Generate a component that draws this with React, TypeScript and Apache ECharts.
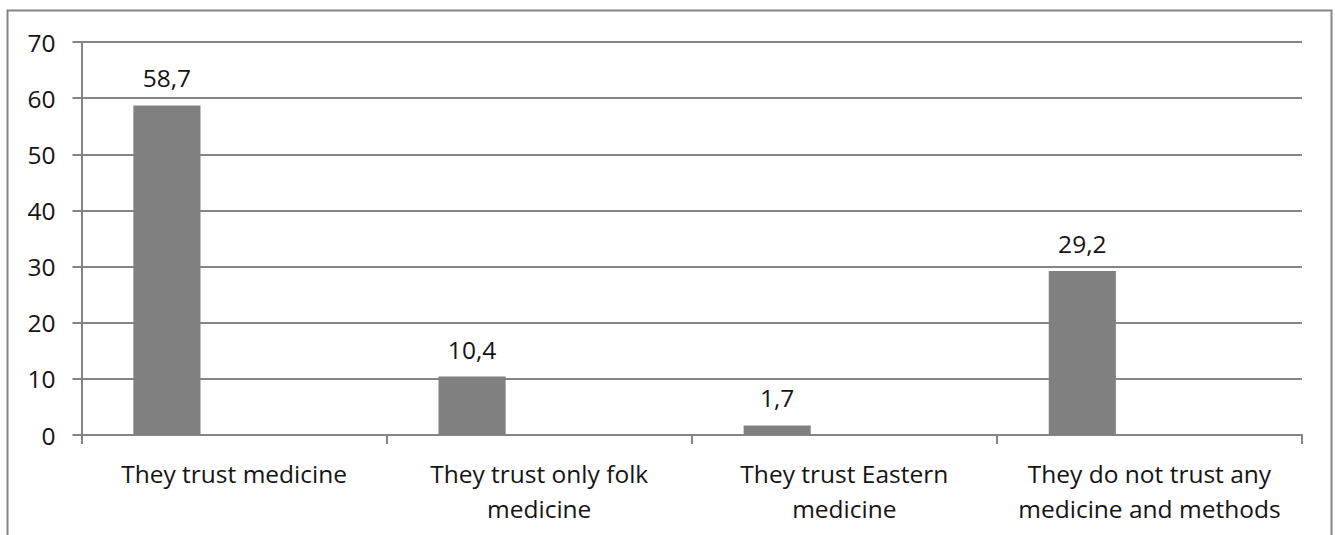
import React, { useEffect, useRef } from "react";
import * as echarts from "echarts";

// Survey answers and their shares, in percent
const categories: string[] = [
  "They trust medicine",
  "They trust only folk\nmedicine",
  "They trust Eastern\nmedicine",
  "They do not trust any\nmedicine and methods",
];
const shares: number[] = [58.7, 10.4, 1.7, 29.2];
// Two further series slots of the clustered layout carry no values
const emptySlot: (number | null)[] = [null, null, null, null];

const yMin = 0;
const yMax = 70;
const yStep = 10;

const FONT = "'Open Sans', 'Noto Sans', sans-serif";
const TEXT = "#141414";
const LINE = "#858585";
const BAR = "#808080";
const FS = 24.5;

export default function App() {
  const ref = useRef<HTMLDivElement>(null);

  useEffect(() => {
    if (!ref.current) return;
    const chart = echarts.init(ref.current, undefined, { renderer: "svg" });
    chart.setOption({
      animation: false,
      backgroundColor: "#ffffff",
      graphic: [
        {
          type: "rect",
          shape: { x: 7.5, y: 10.5, width: 1324, height: 600 },
          style: { fill: "none", stroke: LINE, lineWidth: 2 },
          silent: true,
        },
      ],
      grid: { left: 81.5, right: 33, top: 42, bottom: 100, containLabel: false },
      xAxis: {
        type: "category",
        data: categories,
        boundaryGap: true,
        axisLine: { show: true, lineStyle: { color: LINE, width: 2 } },
        axisTick: { show: true, length: 9, interval: 0, alignWithLabel: false, lineStyle: { color: LINE, width: 2 } },
        axisLabel: {
          interval: 0,
          margin: 21,
          color: TEXT,
          fontFamily: FONT,
          fontSize: FS,
          lineHeight: 35,
        },
        splitLine: { show: false },
      },
      yAxis: {
        type: "value",
        min: yMin,
        max: yMax,
        interval: yStep,
        axisLine: { show: true, lineStyle: { color: LINE, width: 2 } },
        axisTick: { show: true, length: 9, lineStyle: { color: LINE, width: 2 } },
        axisLabel: {
          margin: 26,
          color: TEXT,
          fontFamily: FONT,
          fontSize: FS,
        },
        splitLine: { show: true, lineStyle: { color: LINE, width: 2 } },
      },
      series: [
        {
          name: "share",
          type: "bar",
          data: shares,
          barGap: "0%",
          barCategoryGap: "34%",
          itemStyle: { color: BAR },
          label: {
            show: true,
            position: "top",
            distance: 15,
            color: TEXT,
            fontFamily: FONT,
            fontSize: FS,
            formatter: (p: any) => String(p.value).replace(".", ","),
          },
        },
        { name: "slot2", type: "bar", data: emptySlot, barGap: "0%", barCategoryGap: "34%" },
        { name: "slot3", type: "bar", data: emptySlot, barGap: "0%", barCategoryGap: "34%" },
      ],
    });
    return () => chart.dispose();
  }, []);

  return (
    <div
      ref={ref}
      style={{ position: "fixed", left: 0, top: 0, width: 1335, height: 535 }}
    />
  );
}
